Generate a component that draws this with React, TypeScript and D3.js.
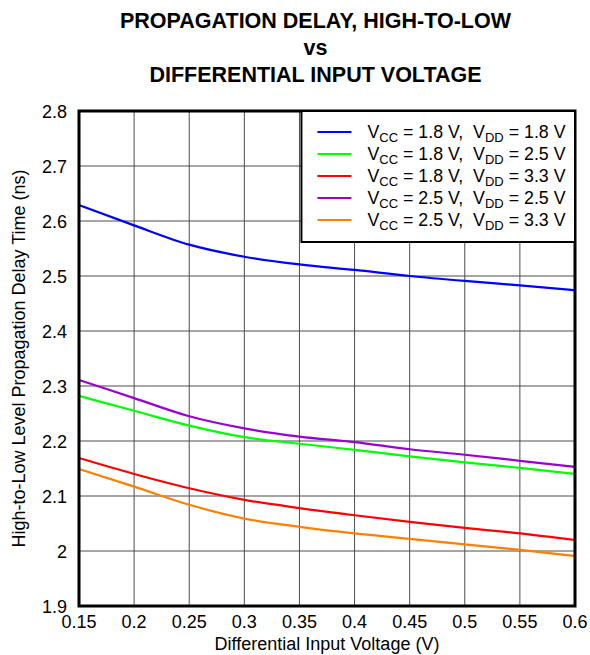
import React, { useEffect, useRef } from "react";
import * as d3 from "d3";

const xValues = [0.15, 0.2, 0.25, 0.3, 0.35, 0.4, 0.45, 0.5, 0.55, 0.6];

const vcc18vdd18 = [2.629, 2.592, 2.557, 2.535, 2.521, 2.511, 2.5, 2.491, 2.483, 2.474];
const vcc18vdd25 = [2.282, 2.255, 2.228, 2.207, 2.195, 2.184, 2.172, 2.161, 2.151, 2.14];
const vcc18vdd33 = [2.169, 2.14, 2.114, 2.093, 2.078, 2.065, 2.053, 2.042, 2.032, 2.02];
const vcc25vdd25 = [2.311, 2.278, 2.245, 2.223, 2.208, 2.198, 2.185, 2.175, 2.164, 2.153];
const vcc25vdd33 = [2.149, 2.117, 2.084, 2.059, 2.044, 2.032, 2.022, 2.012, 2.002, 1.991];

const seriesList = [
  { vcc: "1.8", vdd: "1.8", values: vcc18vdd18, color: "#0000ff" },
  { vcc: "1.8", vdd: "2.5", values: vcc18vdd25, color: "#00ff00" },
  { vcc: "1.8", vdd: "3.3", values: vcc18vdd33, color: "#ff0000" },
  { vcc: "2.5", vdd: "2.5", values: vcc25vdd25, color: "#9900cc" },
  { vcc: "2.5", vdd: "3.3", values: vcc25vdd33, color: "#ff8000" },
];

const xTicks = [0.15, 0.2, 0.25, 0.3, 0.35, 0.4, 0.45, 0.5, 0.55, 0.6];
const yTicks = [1.9, 2, 2.1, 2.2, 2.3, 2.4, 2.5, 2.6, 2.7, 2.8];

const titleLines = ["PROPAGATION DELAY, HIGH-TO-LOW", "vs", "DIFFERENTIAL INPUT VOLTAGE"];

const FONT = "Arial, 'Liberation Sans', Helvetica, sans-serif";

export default function App() {
  const ref = useRef<SVGSVGElement | null>(null);

  useEffect(() => {
    if (!ref.current) return;
    const svg = d3.select(ref.current);
    svg.selectAll("*").remove();

    const margin = { top: 111, right: 15, bottom: 49, left: 79 };
    const W = 590;
    const H = 655;
    const width = W - margin.left - margin.right;
    const height = H - margin.top - margin.bottom;

    const x = d3.scaleLinear().domain([0.15, 0.6]).range([0, width]);
    const y = d3.scaleLinear().domain([1.9, 2.8]).range([height, 0]);

    // titles (centred a little left of the plot centre, as in the source)
    svg
      .selectAll("text.title")
      .data(titleLines)
      .enter()
      .append("text")
      .attr("class", "title")
      .attr("x", 315.5)
      .attr("y", (d, i) => 28 + i * 27)
      .attr("text-anchor", "middle")
      .style("font-family", FONT)
      .style("font-size", "21.5px")
      .style("font-weight", "bold")
      .attr("fill", "#000")
      .text((d) => d);

    const g = svg.append("g").attr("transform", `translate(${margin.left},${margin.top})`);

    // grid
    g.selectAll("line.vgrid")
      .data(xTicks)
      .enter()
      .append("line")
      .attr("x1", (d) => x(d))
      .attr("x2", (d) => x(d))
      .attr("y1", 0)
      .attr("y2", height)
      .attr("stroke", "#4d4d4d")
      .attr("stroke-width", 1);

    g.selectAll("line.hgrid")
      .data(yTicks)
      .enter()
      .append("line")
      .attr("x1", 0)
      .attr("x2", width)
      .attr("y1", (d) => y(d))
      .attr("y2", (d) => y(d))
      .attr("stroke", "#4d4d4d")
      .attr("stroke-width", 1);

    // lines
    const line = d3
      .line<number>()
      .x((d, i) => x(xValues[i]))
      .y((d) => y(d))
      .curve(d3.curveMonotoneX);

    seriesList.forEach((s) => {
      g.append("path")
        .datum(s.values)
        .attr("fill", "none")
        .attr("stroke", s.color)
        .attr("stroke-width", 2.2)
        .attr("d", line);
    });

    // frame
    g.append("rect")
      .attr("x", 0)
      .attr("y", 0)
      .attr("width", width)
      .attr("height", height)
      .attr("fill", "none")
      .attr("stroke", "#000")
      .attr("stroke-width", 3);

    // tick labels
    g.selectAll("text.xt")
      .data(xTicks)
      .enter()
      .append("text")
      .attr("x", (d) => x(d))
      .attr("y", height + 22)
      .attr("text-anchor", "middle")
      .style("font-family", FONT)
      .style("font-size", "18px")
      .attr("fill", "#000")
      .text((d) => d3.format("")(d));

    g.selectAll("text.yt")
      .data(yTicks)
      .enter()
      .append("text")
      .attr("x", -12)
      .attr("y", (d) => y(d) + 6.5)
      .attr("text-anchor", "end")
      .style("font-family", FONT)
      .style("font-size", "18px")
      .attr("fill", "#000")
      .text((d) => d3.format("")(d));

    // axis titles
    g.append("text")
      .attr("x", width / 2)
      .attr("y", height + 44)
      .attr("text-anchor", "middle")
      .style("font-family", FONT)
      .style("font-size", "18px")
      .attr("fill", "#000")
      .text("Differential Input Voltage (V)");

    g.append("text")
      .attr("transform", `translate(${-54},${height / 2}) rotate(-90)`)
      .attr("text-anchor", "middle")
      .style("font-family", FONT)
      .style("font-size", "18px")
      .attr("fill", "#000")
      .text("High-to-Low Level Propagation Delay Time (ns)");

    // legend
    const legend = g.append("g").attr("transform", `translate(${x(0.35) + 2},0)`);
    const legendW = width - x(0.35) - 2;
    legend
      .append("rect")
      .attr("x", 0)
      .attr("y", 0)
      .attr("width", legendW)
      .attr("height", 131)
      .attr("fill", "#fff")
      .attr("stroke", "#000")
      .attr("stroke-width", 2);

    seriesList.forEach((s, i) => {
      const ry = 21 + i * 22;
      legend
        .append("line")
        .attr("x1", 16)
        .attr("x2", 50)
        .attr("y1", ry)
        .attr("y2", ry)
        .attr("stroke", s.color)
        .attr("stroke-width", 2.2);

      const t = legend
        .append("text")
        .attr("x", 66)
        .attr("y", ry + 6)
        .style("font-family", FONT)
        .style("font-size", "17.8px")
        .attr("fill", "#000");
      t.append("tspan").text("V");
      t.append("tspan").attr("dy", 4).style("font-size", "13px").text("CC");
      t.append("tspan").attr("dy", -4).text(` = ${s.vcc} V,\u00a0 V`);
      t.append("tspan").attr("dy", 4).style("font-size", "13px").text("DD");
      t.append("tspan").attr("dy", -4).text(` = ${s.vdd} V`);
    });
  }, []);

  return (
    <svg
      ref={ref}
      width={590}
      height={655}
      style={{ position: "absolute", left: 0, top: 0, background: "#fff" }}
    />
  );
}
